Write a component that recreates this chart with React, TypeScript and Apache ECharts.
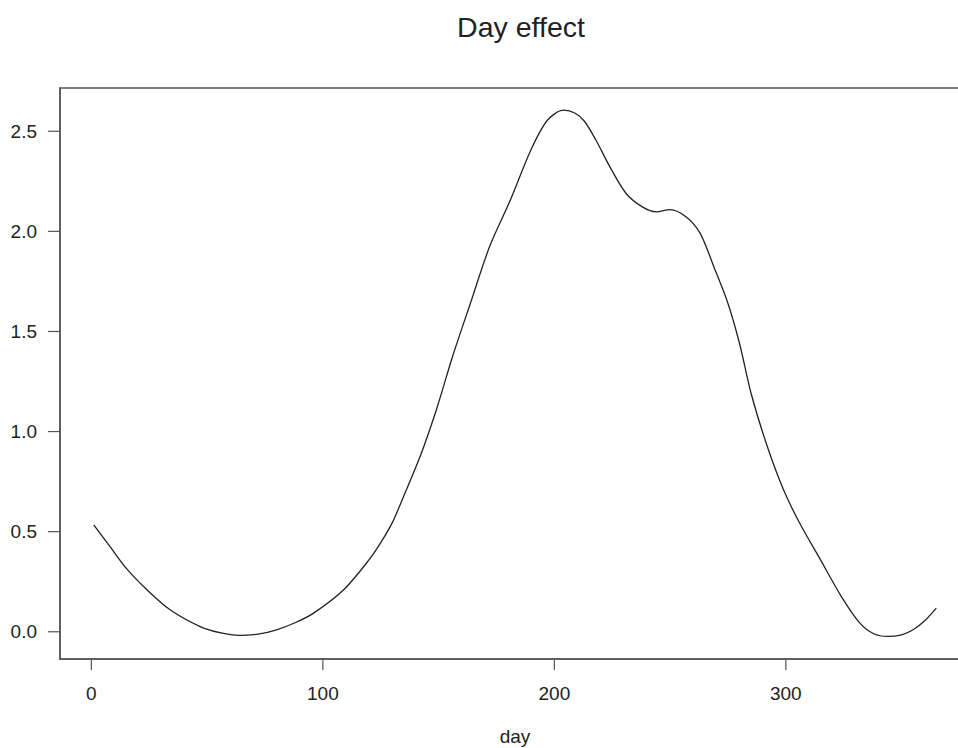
import React, { useEffect, useRef } from "react";
import * as echarts from "echarts";

const days = [1, 8, 15, 24, 34, 47, 56, 64, 72, 80, 88, 96, 109, 120, 125, 130, 135, 142, 149, 156, 164, 172, 181, 190, 197, 204, 209, 213, 218, 224, 231, 238, 244, 250, 257, 263, 269, 275, 280, 285, 292, 299, 306, 315, 324, 332, 338, 344, 350, 355, 360, 365];
const effect = [0.534, 0.426, 0.318, 0.21, 0.11, 0.026, -0.006, -0.018, -0.012, 0.01, 0.045, 0.093, 0.21, 0.36, 0.445, 0.545, 0.68, 0.875, 1.108, 1.374, 1.65, 1.923, 2.156, 2.41, 2.555, 2.605, 2.59, 2.55, 2.455, 2.322, 2.189, 2.122, 2.097, 2.109, 2.072, 1.99, 1.82, 1.64, 1.44, 1.19, 0.925, 0.709, 0.542, 0.359, 0.176, 0.043, -0.01, -0.023, -0.015, 0.01, 0.055, 0.118];
const xTicks = [0, 100, 200, 300];
const yTicks = [0, 0.5, 1.0, 1.5, 2.0, 2.5];
const xRange = [-13.56, 379.56];
const yRange = [-0.136, 2.716];
const title = "Day effect";
const xName = "day";

export default function App() {
  const ref = useRef<HTMLDivElement>(null);
  useEffect(() => {
    document.body.style.margin = "0";
    const chart = echarts.init(ref.current!, null, { renderer: "svg" });
    const font = "'Liberation Sans', Arial, Helvetica, sans-serif";
    const axisColor = "#555";
    chart.setOption({
      animation: false,
      backgroundColor: "#fff",
      title: {
        text: title,
        left: 516,
        top: 7,
        textAlign: "center",
        textStyle: { fontFamily: font, fontSize: 28.5, fontWeight: "normal", color: "#222" },
      },
      grid: {
        left: 60,
        top: 88,
        bottom: 89,
        right: 0,
        show: true,
        borderColor: axisColor,
        borderWidth: 1.5,
        containLabel: false,
        outerBoundsMode: "none",
      },
      xAxis: {
        type: "value",
        min: xRange[0],
        max: xRange[1],
        name: xName,
        nameLocation: "middle",
        nameGap: 68,
        nameTextStyle: { fontFamily: font, fontSize: 19, color: "#222" },
        axisLine: { show: true, onZero: false, lineStyle: { color: axisColor, width: 1.5 } },
        splitLine: { show: false },
        axisTick: { show: false },
        axisLabel: {
          customValues: xTicks,
          margin: 34,
          verticalAlign: "middle",
          fontFamily: font,
          fontSize: 19,
          color: "#222",
          formatter: (v: number) => String(v),
        },
      },
      yAxis: {
        type: "value",
        min: yRange[0],
        max: yRange[1],
        axisLine: { show: true, onZero: false, lineStyle: { color: axisColor, width: 1.5 } },
        splitLine: { show: false },
        axisTick: { show: false },
        axisLabel: {
          customValues: yTicks,
          margin: 23,
          fontFamily: font,
          fontSize: 19,
          color: "#222",
          formatter: (v: number) => v.toFixed(1),
        },
      },
      series: [
        {
          type: "line",
          data: days.map((d, i) => [d, effect[i]]),
          showSymbol: false,
          smooth: 0.3,
          lineStyle: { color: "#222", width: 1.3 },
        },
      ],
    });
    const ticks: any[] = [];
    xTicks.forEach((v) => {
      const p = chart.convertToPixel({ gridIndex: 0 }, [v, yRange[0]]) as number[];
      ticks.push({
        type: "line",
        shape: { x1: p[0], y1: p[1], x2: p[0], y2: p[1] + 11 },
        style: { stroke: axisColor, lineWidth: 1.2 },
      });
    });
    yTicks.forEach((v) => {
      const p = chart.convertToPixel({ gridIndex: 0 }, [xRange[0], v]) as number[];
      ticks.push({
        type: "line",
        shape: { x1: p[0] - 12, y1: p[1], x2: p[0], y2: p[1] },
        style: { stroke: axisColor, lineWidth: 1.2 },
      });
    });
    chart.setOption({ graphic: ticks });
    return () => chart.dispose();
  }, []);
  return (
    <div style={{ position: "absolute", left: 0, top: 0, width: 958, height: 748, overflow: "hidden" }}>
      <div ref={ref} style={{ width: 970, height: 748 }} />
    </div>
  );
}
